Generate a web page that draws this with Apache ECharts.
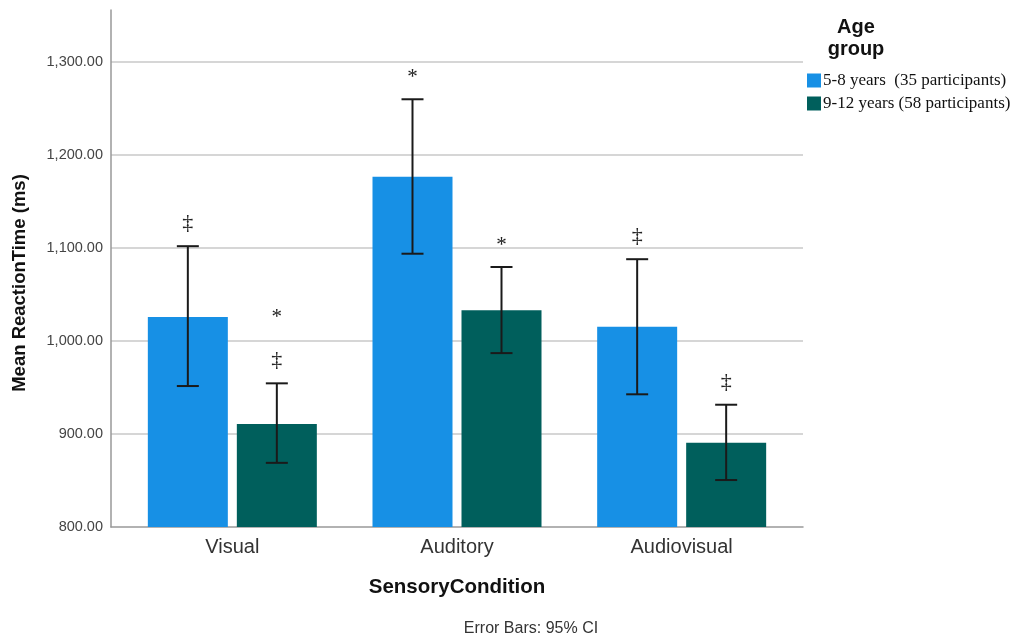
<!DOCTYPE html>
<html><head><meta charset="utf-8">
<script src="https://cdn.jsdelivr.net/npm/echarts@6/dist/echarts.min.js"></script>
<style>html,body{margin:0;padding:0;background:#fff}#c{width:1011px;height:640px}</style>
</head><body><div id="c"></div>
<script>
const categories = ['Visual', 'Auditory', 'Audiovisual'];
const seriesNames = ['5-8 years  (35 participants)', '9-12 years (58 participants)'];
const meanYoung = [1025.8, 1176.7, 1015.4];
const meanOld = [910.8, 1033.0, 890.7];
const ciLowYoung = [951.6, 1093.9, 942.7];
const ciHighYoung = [1102.0, 1260.0, 1088.0];
const ciLowOld = [869.0, 987.0, 850.5];
const ciHighOld = [954.5, 1079.6, 931.5];
// significance markers above each error bar (top to bottom)
const markYoung = [['‡'], ['*'], ['‡']];
const markOld = [['*', '‡'], ['*'], ['‡']];
const yTicks = [800, 900, 1000, 1100, 1200, 1300];

const colors = ['#1790e5', '#005f5c'];
const chart = echarts.init(document.getElementById('c'), null, {renderer: 'canvas'});

const errData = [];
for (let i = 0; i < categories.length; i++) {
  errData.push([i, ciLowYoung[i], ciHighYoung[i], 0]);
  errData.push([i, ciLowOld[i], ciHighOld[i], 1]);
}

function renderErr(params, api) {
  const cat = api.value(0), lo = api.value(1), hi = api.value(2), s = api.value(3);
  const band = api.size([1, 0])[0];
  const off = (s === 0 ? -1 : 1) * band * 44.5 / 224.67;
  const pLo = api.coord([cat, lo]);
  const pHi = api.coord([cat, hi]);
  const x = pLo[0] + off;
  const half = 11;
  const st = {stroke: '#1a1a1a', lineWidth: 2};
  const children = [
    {type: 'line', shape: {x1: x, y1: pLo[1], x2: x, y2: pHi[1]}, style: st},
    {type: 'line', shape: {x1: x - half, y1: pLo[1], x2: x + half, y2: pLo[1]}, style: st},
    {type: 'line', shape: {x1: x - half, y1: pHi[1], x2: x + half, y2: pHi[1]}, style: st}
  ];
  const marks = (s === 0 ? markYoung : markOld)[cat];
  let y = pHi[1] - 23;
  for (let k = marks.length - 1; k >= 0; k--) {
    const m = marks[k];
    children.push({type: 'text', style: {text: m, x: x, y: m === '*' ? y + 1 : y, align: 'center', verticalAlign: 'middle',
      font: (m === '*' ? '21px' : '22px') + ' "Liberation Serif", serif', fill: '#222'}});
    y -= 44;
  }
  return {type: 'group', children: children};
}

const option = {
  animation: false,
  grid: [
    {left: 120, right: 217, top: 10, bottom: 113},
    {left: 111, right: 208, top: 10, bottom: 113}
  ],
  xAxis: [
    {type: 'category', gridIndex: 0, data: categories,
      axisLine: {show: false}, axisTick: {show: false},
      axisLabel: {fontSize: 20, color: '#333', fontFamily: 'Liberation Sans, Arial, sans-serif', margin: 10}},
    {type: 'value', gridIndex: 1, min: 0, max: 1,
      axisLine: {show: true, lineStyle: {color: '#999', width: 1.5}}, axisTick: {show: false},
      axisLabel: {show: false}, splitLine: {show: false}}
  ],
  yAxis: [
    {type: 'value', gridIndex: 0, min: 800, max: 1356, interval: 100,
      axisLine: {show: false}, axisTick: {show: false}, axisLabel: {show: false}, splitLine: {show: false}},
    {type: 'value', gridIndex: 1, min: 800, max: 1356, interval: 100,
      axisLine: {show: true, lineStyle: {color: '#999', width: 1.5}},
      axisTick: {show: false},
      axisLabel: {showMaxLabel: false, fontSize: 14.5, color: '#444', margin: 8,
        fontFamily: 'Liberation Sans, Arial, sans-serif',
        formatter: v => yTicks.indexOf(v) >= 0 ? v.toLocaleString('en-US', {minimumFractionDigits: 2, maximumFractionDigits: 2}) : ''},
      splitLine: {show: true, lineStyle: {color: ['transparent', '#c8c8c8', '#c8c8c8', '#c8c8c8', '#c8c8c8', '#c8c8c8', 'transparent'], width: 1.5}}}
  ],
  legend: {
    orient: 'vertical', left: 802, top: 67, itemWidth: 14, itemHeight: 14, itemGap: 6,
    icon: 'rect', textStyle: {fontFamily: '"Liberation Serif", serif', fontSize: 17, color: '#111', padding: [0, 0, 0, -3]},
    data: seriesNames
  },
  series: [
    {name: seriesNames[0], type: 'bar', xAxisIndex: 0, yAxisIndex: 0, data: meanYoung,
      barWidth: 80, barGap: '11.25%', itemStyle: {color: colors[0]}},
    {name: seriesNames[1], type: 'bar', xAxisIndex: 0, yAxisIndex: 0, data: meanOld,
      barWidth: 80, barGap: '11.25%', itemStyle: {color: colors[1]}},
    {type: 'custom', xAxisIndex: 0, yAxisIndex: 0, renderItem: renderErr, data: errData, z: 5,
      encode: {x: 0, y: [1, 2]}}
  ],
  graphic: [
    {type: 'text', style: {text: 'Age\ngroup', x: 856, y: 16, align: 'center', lineHeight: 22,
      font: 'bold 20px "Liberation Sans", Arial, sans-serif', fill: '#111'}},
    {type: 'text', rotation: Math.PI / 2, x: 8, y: 283,
      style: {text: 'Mean ReactionTime (ms)', align: 'center', verticalAlign: 'middle', x: 0, y: 12,
        font: 'bold 18.5px "Liberation Sans", Arial, sans-serif', fill: '#111'}},
    {type: 'text', style: {text: 'SensoryCondition', x: 457, y: 587, align: 'center', verticalAlign: 'middle',
      font: 'bold 20.5px "Liberation Sans", Arial, sans-serif', fill: '#111'}},
    {type: 'text', style: {text: 'Error Bars: 95% CI', x: 531, y: 629, align: 'center', verticalAlign: 'middle',
      font: '16px "Liberation Sans", Arial, sans-serif', fill: '#333'}}
  ]
};
chart.setOption(option);
</script></body></html>
